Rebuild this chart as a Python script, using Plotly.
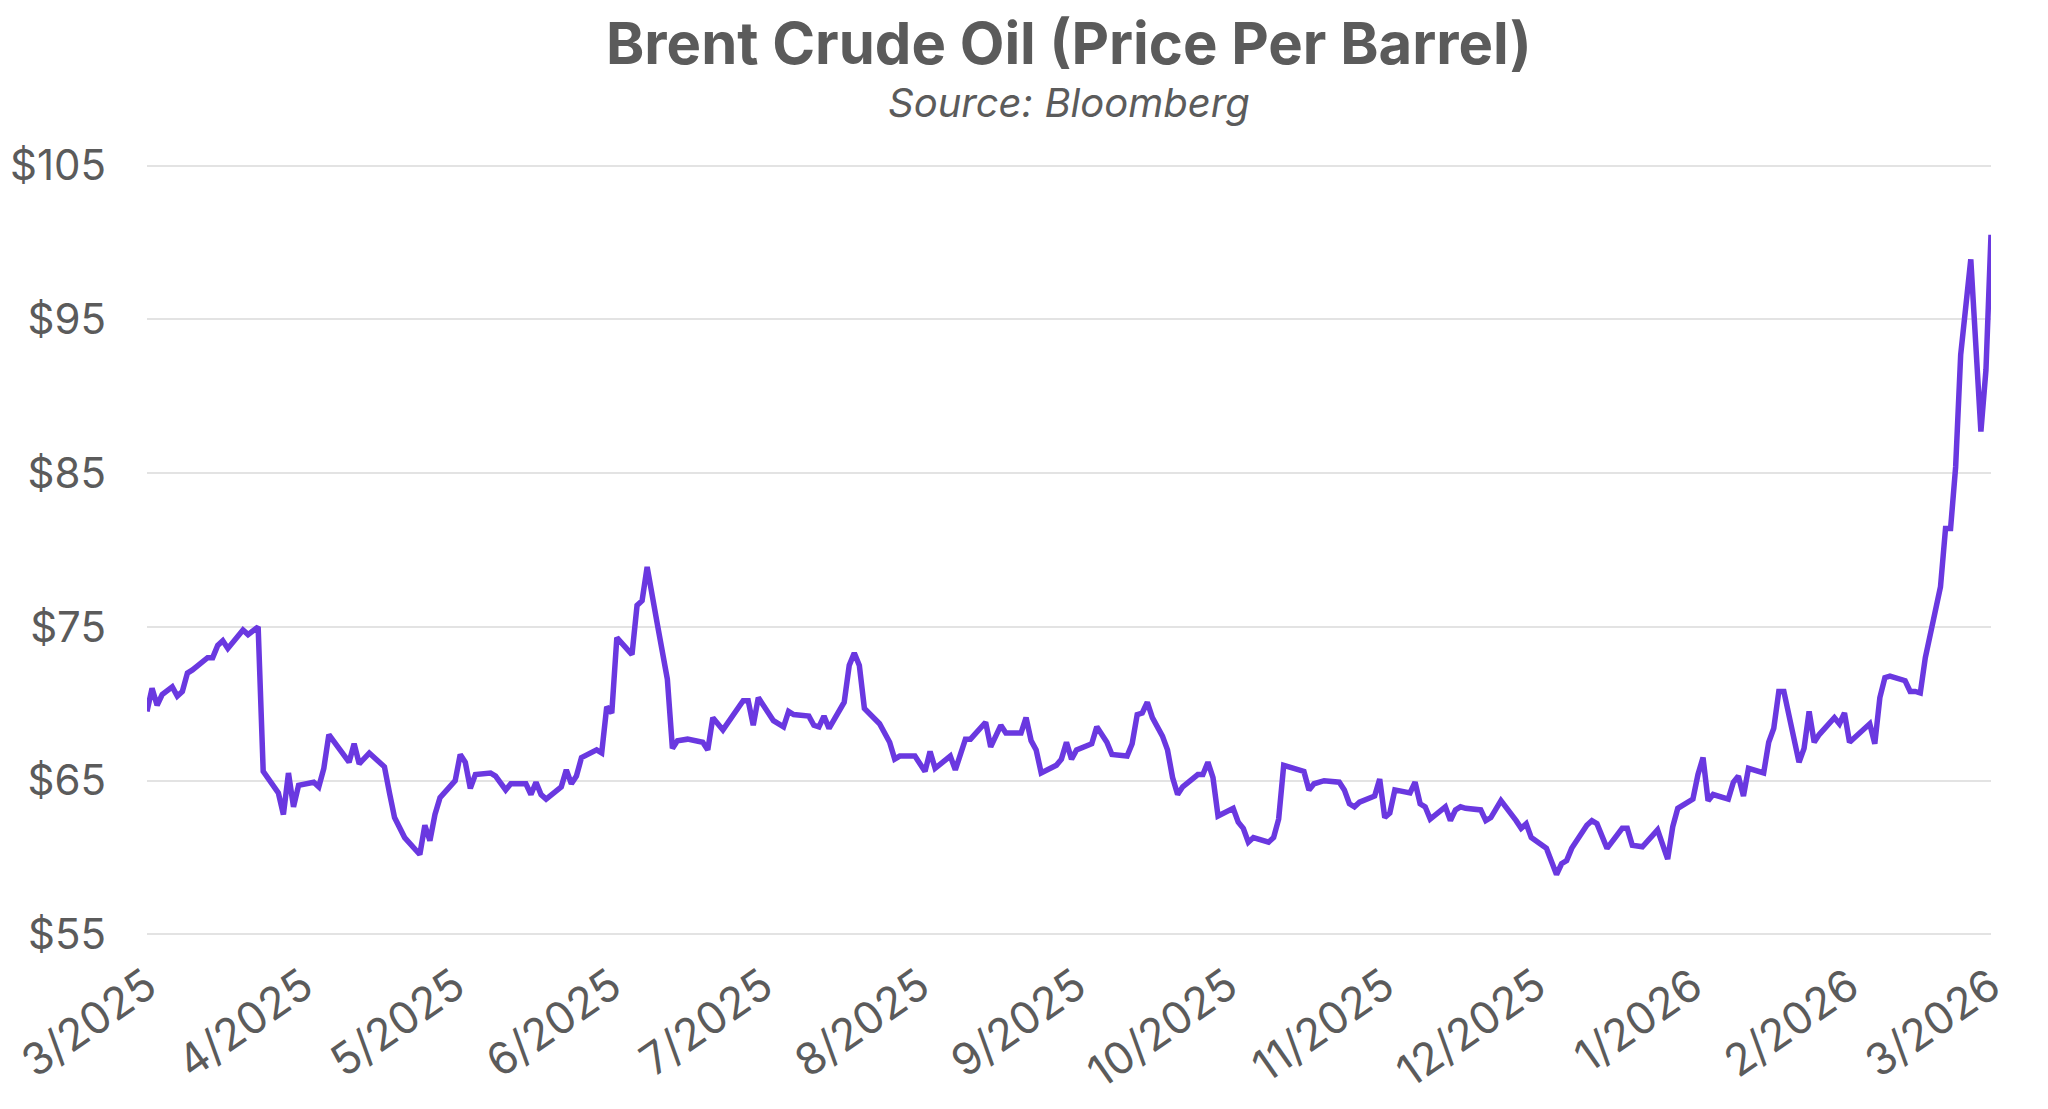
import plotly.graph_objects as go

dates = [
    "2025-03-01", "2025-03-02", "2025-03-03", "2025-03-04", "2025-03-06", "2025-03-07", "2025-03-08",
    "2025-03-09", "2025-03-10", "2025-03-13", "2025-03-14", "2025-03-15", "2025-03-16", "2025-03-17",
    "2025-03-20", "2025-03-21", "2025-03-23", "2025-03-24", "2025-03-27", "2025-03-28", "2025-03-29",
    "2025-03-30", "2025-03-31", "2025-04-03", "2025-04-04", "2025-04-05", "2025-04-06", "2025-04-10",
    "2025-04-11", "2025-04-12", "2025-04-14", "2025-04-17", "2025-04-18", "2025-04-19", "2025-04-21",
    "2025-04-24", "2025-04-25", "2025-04-26", "2025-04-27", "2025-04-28", "2025-05-01",
    "2025-05-02", "2025-05-03", "2025-05-04", "2025-05-05", "2025-05-08", "2025-05-09", "2025-05-11",
    "2025-05-12", "2025-05-15", "2025-05-16", "2025-05-17", "2025-05-18", "2025-05-19", "2025-05-22",
    "2025-05-23", "2025-05-24", "2025-05-25", "2025-05-26", "2025-05-29", "2025-05-30", "2025-05-31",
    "2025-06-01", "2025-06-02", "2025-06-05", "2025-06-06", "2025-06-07", "2025-06-08", "2025-06-10",
    "2025-06-12", "2025-06-13", "2025-06-14", "2025-06-16", "2025-06-19", "2025-06-20", "2025-06-21",
    "2025-06-23", "2025-06-27", "2025-06-28", "2025-06-29", "2025-06-30", "2025-07-03", "2025-07-05",
    "2025-07-06", "2025-07-07",
    "2025-07-10", "2025-07-11", "2025-07-12", "2025-07-13", "2025-07-14", "2025-07-17", "2025-07-18",
    "2025-07-19", "2025-07-20", "2025-07-21", "2025-07-24", "2025-07-26", "2025-07-27", "2025-07-28",
    "2025-07-31", "2025-08-02", "2025-08-03", "2025-08-04", "2025-08-07", "2025-08-08", "2025-08-10",
    "2025-08-11", "2025-08-14", "2025-08-15", "2025-08-17", "2025-08-18", "2025-08-21", "2025-08-22",
    "2025-08-23", "2025-08-24", "2025-08-25", "2025-08-28", "2025-08-29", "2025-08-30", "2025-08-31",
    "2025-09-01", "2025-09-04", "2025-09-05", "2025-09-07", "2025-09-08", "2025-09-11",
    "2025-09-12", "2025-09-13", "2025-09-14", "2025-09-15", "2025-09-16", "2025-09-18", "2025-09-19",
    "2025-09-20", "2025-09-21", "2025-09-22", "2025-09-25", "2025-09-26", "2025-09-27", "2025-09-28",
    "2025-09-29", "2025-10-02", "2025-10-03", "2025-10-04", "2025-10-05", "2025-10-06", "2025-10-09",
    "2025-10-10", "2025-10-11", "2025-10-12", "2025-10-16", "2025-10-17", "2025-10-18", "2025-10-20",
    "2025-10-23", "2025-10-24", "2025-10-25", "2025-10-26", "2025-10-27", "2025-10-30", "2025-10-31",
    "2025-11-01", "2025-11-02", "2025-11-03", "2025-11-06", "2025-11-07", "2025-11-08", "2025-11-09",
    "2025-11-10", "2025-11-13", "2025-11-14", "2025-11-15",
    "2025-11-16", "2025-11-17", "2025-11-20", "2025-11-21", "2025-11-22", "2025-11-24", "2025-11-27",
    "2025-11-28", "2025-11-29", "2025-11-30", "2025-12-03", "2025-12-05", "2025-12-06", "2025-12-07",
    "2025-12-08", "2025-12-11", "2025-12-12", "2025-12-13", "2025-12-15", "2025-12-18", "2025-12-19",
    "2025-12-20", "2025-12-22", "2025-12-25", "2025-12-27", "2025-12-28", "2025-12-29", "2026-01-01",
    "2026-01-02", "2026-01-03", "2026-01-04", "2026-01-05", "2026-01-08", "2026-01-09", "2026-01-10",
    "2026-01-11", "2026-01-12", "2026-01-15", "2026-01-16", "2026-01-17", "2026-01-18", "2026-01-19",
    "2026-01-22", "2026-01-23", "2026-01-24", "2026-01-25", "2026-01-26", "2026-01-29", "2026-01-30",
    "2026-01-31", "2026-02-01", "2026-02-05", "2026-02-06", "2026-02-07", "2026-02-08", "2026-02-09",
    "2026-02-12", "2026-02-13", "2026-02-14", "2026-02-15", "2026-02-16", "2026-02-19", "2026-02-20",
    "2026-02-21", "2026-02-22", "2026-02-23", "2026-02-25", "2026-02-27", "2026-02-28", "2026-03-01",
]

prices = [
    69.5, 71.0, 69.9, 70.6, 71.1, 70.5, 70.8,
    72.0, 72.2, 73.0, 73.0, 73.8, 74.1, 73.6,
    74.8, 74.5, 75.0, 65.6, 64.2, 62.8, 65.5,
    63.3, 64.7, 64.9, 64.6, 65.8, 68.0, 66.2,
    67.4, 66.1, 66.8, 65.9, 64.2, 62.6, 61.3,
    60.2, 62.1, 61.1, 62.8, 63.9, 65.0,
    66.7, 66.2, 64.5, 65.4, 65.5, 65.3, 64.4,
    64.8, 64.8, 64.1, 64.9, 64.1, 63.8, 64.6,
    65.7, 64.8, 65.3, 66.5, 67.0, 66.8, 69.8,
    69.4, 74.3, 73.2, 76.4, 76.7, 78.9, 75.2,
    71.6, 67.1, 67.6, 67.7, 67.5, 67.0, 69.1,
    68.3, 70.2, 70.2, 68.6, 70.4, 68.9, 68.5,
    69.5, 69.3,
    69.2, 68.6, 68.5, 69.2, 68.4, 70.1, 72.5,
    73.3, 72.5, 69.7, 68.7, 67.5, 66.4, 66.6,
    66.6, 65.6, 66.9, 65.8, 66.6, 65.7, 67.7,
    67.7, 68.8, 67.2, 68.6, 68.1, 68.1, 69.1,
    67.6, 67.0, 65.5, 66.0, 66.4, 67.5, 66.4,
    67.0, 67.4, 68.5, 67.5, 66.7, 66.6,
    67.4, 69.3, 69.4, 70.1, 69.1, 67.9, 67.0,
    65.2, 64.1, 64.6, 65.4, 65.4, 66.2, 65.2,
    62.7, 63.2, 62.3, 61.9, 61.0, 61.3, 61.0,
    61.3, 62.5, 66.0, 65.6, 64.4, 64.8, 65.0,
    64.9, 64.4, 63.5, 63.3, 63.6, 64.0, 65.1,
    62.6, 62.9, 64.4, 64.2, 64.9, 63.5, 63.3,
    62.5, 63.3, 62.4, 63.1,
    63.3, 63.2, 63.1, 62.4, 62.6, 63.7, 62.4,
    61.9, 62.2, 61.3, 60.6, 58.9, 59.6, 59.8,
    60.6, 62.1, 62.4, 62.2, 60.6, 61.9, 61.9,
    60.8, 60.7, 61.8, 59.9, 62.0, 63.2, 63.8,
    65.4, 66.5, 63.7, 64.1, 63.8, 64.9, 65.3,
    64.0, 65.8, 65.5, 67.5, 68.4, 70.8, 70.8,
    66.2, 67.1, 69.5, 67.5, 68.0, 69.1, 68.7,
    69.4, 67.5, 68.7, 67.4, 70.4, 71.7, 71.8,
    71.5, 70.8, 70.8, 70.7, 73.0, 77.6, 81.4,
    81.4, 85.4, 92.7, 98.9, 87.7, 91.7, 100.5,
]

tick_dates = ["2025-03-01", "2025-04-01", "2025-05-01", "2025-06-01", "2025-07-01", "2025-08-01",
              "2025-09-01", "2025-10-01", "2025-11-01", "2025-12-01", "2026-01-01", "2026-02-01",
              "2026-03-01"]
tick_labels = ["3/2025", "4/2025", "5/2025", "6/2025", "7/2025", "8/2025", "9/2025", "10/2025",
               "11/2025", "12/2025", "1/2026", "2/2026", "3/2026"]
y_ticks = [55, 65, 75, 85, 95, 105]
y_labels = ["$55", "$65", "$75", "$85", "$95", "$105"]

TEXT = "#5b5b5b"
FONT = "Inter, 'Noto Sans', sans-serif"

fig = go.Figure()
fig.add_trace(go.Scatter(
    x=dates, y=prices, mode="lines",
    line=dict(color="#6a38e0", width=5.5),
    hoverinfo="skip",
))

fig.update_layout(
    width=2032, height=1093,
    margin=dict(l=139, r=49, t=156, b=165, autoexpand=False),
    paper_bgcolor="white", plot_bgcolor="white",
    showlegend=False,
    font=dict(family=FONT, color=TEXT),
    annotations=[
        dict(text="<b>Brent Crude Oil (Price Per Barrel)</b>", xref="paper", yref="paper",
             x=0.5, y=1, yshift=121, xanchor="center", yanchor="middle", showarrow=False,
             font=dict(size=58, color=TEXT, family=FONT)),
        dict(text="<i>Source: Bloomberg</i>", xref="paper", yref="paper",
             x=0.5, y=1, yshift=62, xanchor="center", yanchor="middle", showarrow=False,
             font=dict(size=40, color=TEXT, family=FONT)),
    ],
)

fig.update_xaxes(
    type="date", range=["2025-03-01", "2026-03-01"],
    tickmode="array", tickvals=tick_dates, ticktext=tick_labels,
    tickangle=-35, tickfont=dict(size=44, color=TEXT, family=FONT),
    showgrid=False, showline=False, zeroline=False, ticks="",
    ticklabelstandoff=15, automargin=False, ticklabeloverflow="allow",
)
fig.update_yaxes(
    range=[54.9, 105.1],
    tickmode="array", tickvals=y_ticks, ticktext=y_labels,
    tickfont=dict(size=42, color=TEXT, family=FONT),
    showgrid=True, gridcolor="#e3e3e3", gridwidth=2,
    showline=False, zeroline=False, ticks="",
    ticklabelstandoff=40, automargin=False, ticklabeloverflow="allow",
)

fig.write_html("out.html")
